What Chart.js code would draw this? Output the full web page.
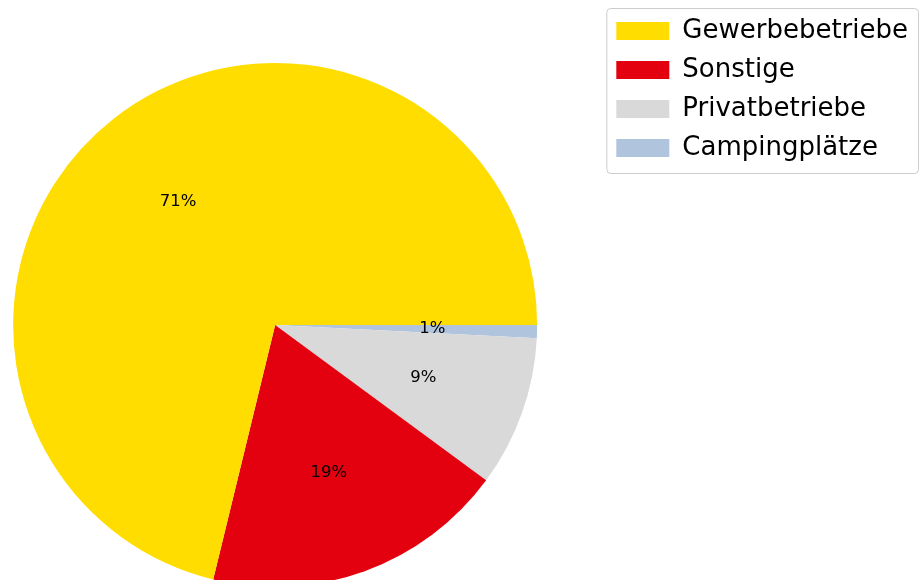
<!DOCTYPE html>
<html>
<head>
<meta charset="utf-8">
<title>Betriebe</title>
<script src="https://cdn.jsdelivr.net/npm/chart.js@4.4.0/dist/chart.umd.min.js"></script>
<style>
  html, body { margin: 0; padding: 0; background: #fff; overflow: hidden; }
  #wrap { position: absolute; left: -70px; top: 0; width: 990px; height: 650px; }
</style>
</head>
<body>
<div id="wrap"><canvas id="pie"></canvas></div>
<script>
const categories = ['Gewerbebetriebe', 'Sonstige', 'Privatbetriebe', 'Campingplätze'];
const shares = [71.2, 18.7, 9.3, 0.8];
const colors = ['#FFDD00', '#E3000F', '#D9D9D9', '#B0C4DE'];

// matplotlib goes counterclockwise from 3 o'clock, Chart.js goes clockwise,
// so the slices are handed over in reverse order (legend is sorted back)
const pieLabels = categories.slice().reverse();
const pieData = shares.slice().reverse();
const pieColors = colors.slice().reverse();

// percent labels at 0.6 of the radius, like autopct
const pctLabels = {
    id: 'pctLabels',
    afterDatasetsDraw(chart) {
        const ctx = chart.ctx;
        const meta = chart.getDatasetMeta(0);
        const values = chart.data.datasets[0].data;
        const total = values.reduce((a, b) => a + b, 0);
        ctx.save();
        ctx.font = '16.5px "DejaVu Sans"';
        ctx.fillStyle = '#000';
        ctx.textAlign = 'center';
        ctx.textBaseline = 'middle';
        meta.data.forEach((arc, i) => {
            const p = arc.getProps(['x', 'y', 'startAngle', 'endAngle', 'outerRadius'], true);
            const mid = (p.startAngle + p.endAngle) / 2;
            const r = p.outerRadius * 0.6;
            ctx.fillText(Math.round(values[i] / total * 100) + '%', p.x + Math.cos(mid) * r, p.y + Math.sin(mid) * r);
        });
        ctx.restore();
    }
};

// thin frame round the legend
const legendFrame = {
    id: 'legendFrame',
    afterDraw(chart) {
        const boxes = chart.legend.legendHitBoxes;
        if (!boxes || !boxes.length) return;
        const left = Math.min(...boxes.map(b => b.left)) - 10;
        const top = Math.min(...boxes.map(b => b.top)) - 10;
        const right = Math.max(...boxes.map(b => b.left + b.width)) + 10;
        const bottom = Math.max(...boxes.map(b => b.top + b.height)) + 12;
        const ctx = chart.ctx;
        ctx.save();
        ctx.strokeStyle = '#cccccc';
        ctx.lineWidth = 1;
        ctx.beginPath();
        ctx.roundRect(left + 0.5, top + 0.5, right - left, bottom - top, 4);
        ctx.stroke();
        ctx.restore();
    }
};

new Chart(document.getElementById('pie'), {
    type: 'pie',
    data: {
        labels: pieLabels,
        datasets: [{
            data: pieData,
            backgroundColor: pieColors,
            borderWidth: 0,
            hoverOffset: 0,
            radius: 262
        }]
    },
    options: {
        responsive: true,
        maintainAspectRatio: false,
        animation: false,
        rotation: 90,
        layout: {
            padding: { left: 17, right: 2, top: 5, bottom: 5 }
        },
        plugins: {
            tooltip: { enabled: false },
            legend: {
                position: 'right',
                align: 'start',
                labels: {
                    color: '#000',
                    font: { family: 'DejaVu Sans', size: 26 },
                    boxWidth: 53,
                    boxHeight: 18,
                    padding: 13,
                    sort: (a, b) => b.index - a.index
                }
            }
        }
    },
    plugins: [pctLabels, legendFrame]
});
</script>
</body>
</html>
